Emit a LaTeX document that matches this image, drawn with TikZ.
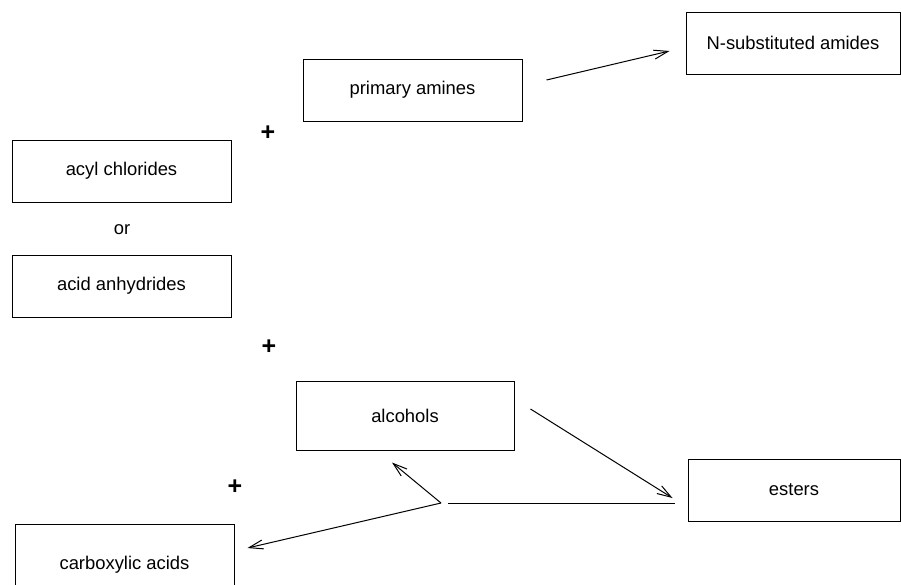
\documentclass[tikz,border=0pt]{standalone}
\usepackage{fontspec}
\setmainfont{Liberation Sans}
\usetikzlibrary{arrows.meta}

\begin{document}
\begin{tikzpicture}[x=1pt, y=-1pt, line width=1pt,
    >={Straight Barb[length=14pt,width=9pt,line width=1pt]},
    every node/.style={font=\fontsize{18.4}{22}\selectfont},
    box/.style={draw, minimum width=219pt, minimum height=62pt, inner sep=0pt},
    plus/.style={font=\fontsize{25}{28}\selectfont\bfseries}]
    \useasboundingbox (0,0) rectangle (901,584);
    \node[box, minimum width=214pt] (NSA) at (793,43) {N-substituted amides};
    \node[box] (PA) at (412.5,90) {primary amines};
    \node[box] (AC) at (121.5,171) {acyl chlorides};
    \node (or) at (122,230) {or};
    \node[box] (AA) at (121.5,286) {acid anhydrides};
    \node[box, minimum width=218pt, minimum height=69pt] (ALC) at (405,415.5) {alcohols};
    \node[box, minimum width=212pt] (EST) at (794,490) {esters};
    \node[box, minimum height=82pt] (CA) at (124.5,565) {carboxylic acids};
    \node[plus] (p1) at (268,133) {+};
    \node[plus] (p2) at (269,347) {+};
    \node[plus] (p3) at (235,487) {+};
    \coordinate (junc) at (441,503);
    \path[draw, ->] ([xshift=24pt,yshift=10pt]PA.east) -- ([xshift=-16pt,yshift=-8pt]NSA.west);
    \path[draw, ->] ([xshift=16pt,yshift=6.5pt]ALC.east) -- ([xshift=-15pt,yshift=-8pt]EST.west);
    \path[draw] ([xshift=-13pt,yshift=-13pt]EST.west) -- ([xshift=7pt]junc);
    \path[draw, ->] (junc) -- ([xshift=-13pt,yshift=-12pt]ALC.south);
    \path[draw, ->] (junc) -- ([xshift=13pt,yshift=17pt]CA.east);
\end{tikzpicture}
\end{document}
